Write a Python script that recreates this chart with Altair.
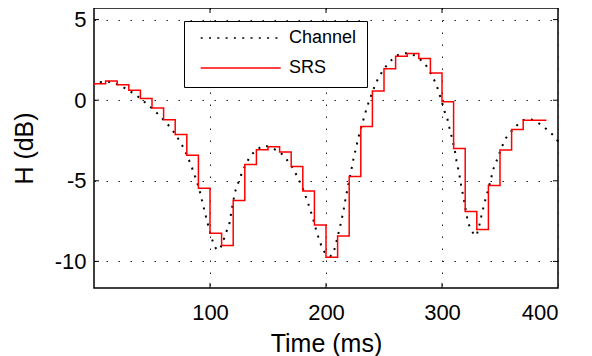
import altair as alt
import pandas as pd

channel_t = [5, 8.4, 15, 22, 28, 34.3, 40.3, 45.8, 51, 56.1, 61, 65.9, 70, 74.2, 77.8,
             80.6, 83.5, 86.1, 88.4, 90.7, 92.4, 94.1, 95.8, 97.6, 99.3, 101.3, 103.9,
             106.2, 108.5, 111.4, 113.4, 116.5, 118.9, 121.5, 124, 127.5, 130.7, 134.1,
             139, 144.8, 148.5, 151.9, 158.3, 163.7, 168.1, 172.4, 175.5, 178.7, 181.5,
             183.9, 186.2, 188.2, 190.2, 192.2, 194.6, 196.8, 200.6, 203.5, 205.4, 207.8,
             209.5, 211.2, 212.9, 214.4, 215.8, 217, 218.4, 220, 221.3, 222.7, 224.2, 226,
             227.6, 229.5, 231.4, 233.4, 235.4, 238, 240.5, 243.2, 246.6, 250.5, 255.2,
             261, 266.7, 270.5, 274.8, 280.3, 285.7, 289.5, 293, 295.8, 298.1, 300.2,
             302.1, 304.7, 306.4, 308.2, 309.9, 311.4, 312.5, 314, 315.4, 316.5, 318,
             319.4, 320.6, 322, 324, 327.5, 329.5, 331.5, 333.2, 334.9, 336.6, 338.7,
             340.5, 342.4, 344.1, 346.7, 349.3, 351.8, 355.1, 359.7, 364, 370.3, 377.2,
             382.4, 386.5, 389.9, 393.4, 396.2, 398.5, 400]
channel_h = [1.12, 1.15, 1.13, 0.93, 0.7, 0.41, 0.1, -0.25, -0.56, -0.93, -1.3, -1.69,
             -2.1, -2.57, -3.03, -3.5, -4.0, -4.51, -5.0, -5.49, -6.01, -6.52, -7.02,
             -7.53, -8.02, -8.54, -9.06, -9.3, -9.24, -8.75, -8.27, -7.76, -6.73, -5.7,
             -5.19, -4.51, -4.0, -3.54, -3.13, -2.86, -2.84, -2.92, -3.13, -3.44, -3.87,
             -4.32, -4.78, -5.25, -5.75, -6.26, -6.73, -7.2, -7.7, -8.25, -8.73, -9.22,
             -9.61, -9.68, -9.61, -9.14, -8.62, -8.11, -7.6, -7.08, -6.57, -6.05, -5.54,
             -5.0, -4.51, -4.0, -3.46, -2.94, -2.39, -1.9, -1.42, -0.91, -0.41, 0.1, 0.6,
             1.09, 1.56, 2.0, 2.41, 2.78, 2.9, 2.92, 2.84, 2.59, 2.22, 1.77, 1.3, 0.82,
             0.31, -0.18, -0.68, -1.17, -1.71, -2.22, -2.74, -3.25, -3.77, -4.28, -4.8,
             -5.31, -5.83, -6.36, -6.88, -7.41, -7.9, -8.33, -8.42, -8.0, -7.41, -6.9,
             -6.38, -5.85, -5.35, -4.84, -4.3, -3.83, -3.33, -2.86, -2.35, -1.94, -1.59,
             -1.23, -1.2, -1.38, -1.59, -1.79, -2.0, -2.2, -2.41, -2.55]

srs_t = [0, 10, 20, 30, 40, 50, 60, 70, 80, 90, 100, 110, 120, 130, 140, 150, 160, 170,
         180, 190, 200, 210, 220, 230, 240, 250, 260, 270, 280, 290, 300, 310, 320, 330,
         340, 350, 360, 370, 380, 390]
srs_h = [1.02, 1.19, 0.96, 0.62, 0.10, -0.48, -1.22, -2.12, -3.42, -5.46, -8.25, -9.01,
         -6.22, -3.99, -3.07, -2.88, -3.21, -4.12, -5.64, -7.74, -9.75, -8.42, -4.73,
         -1.63, 0.57, 1.95, 2.73, 2.90, 2.59, 1.69, -0.10, -2.99, -6.90, -8.02, -5.29,
         -3.09, -1.81, -1.24, -1.24, -1.24]

x_ticks = [100, 200, 300, 400]
y_ticks = [-10, -5, 0, 5]
series_names = ["Channel", "SRS"]
series_colors = ["#000000", "#ff0000"]
series_dashes = [[2, 6.3], [1, 0]]

df_ch = pd.DataFrame({"t": channel_t, "h": channel_h, "series": "Channel"})
df_srs = pd.DataFrame({"t": srs_t, "h": srs_h, "series": "SRS"})
df_xt = pd.DataFrame({"t": x_ticks[:-1]})
df_yt = pd.DataFrame({"h": y_ticks})

FONT = "Liberation Sans"
W, H = 464, 280
TICK = 5

x_scale = alt.Scale(domain=[0, 400], nice=False, zero=False)
y_scale = alt.Scale(domain=[-11.65, 5.72], nice=False, zero=False)

x_enc = alt.X("t:Q", scale=x_scale,
              axis=alt.Axis(title="Time (ms)", values=x_ticks, labelPadding=14,
                            titlePadding=8, labelExpr="datum.value + ''"))
y_enc = alt.Y("h:Q", scale=y_scale,
              axis=alt.Axis(title="H (dB)", values=y_ticks, labelPadding=8,
                            titlePadding=17, labelExpr="datum.value + ''"))

leg = alt.Legend(orient="none", legendX=90, legendY=13, title=None,
                 strokeColor="black", fillColor="white", padding=10,
                 symbolType="M-4,0H4", symbolSize=400, symbolStrokeWidth=1.5,
                 symbolOffset=35.7, labelOffset=37.3, clipHeight=14,
                 labelFont=FONT, labelFontSize=18, labelColor="black",
                 rowPadding=12, labelLimit=300)

color_enc = alt.Color("series:N", scale=alt.Scale(domain=series_names, range=series_colors),
                      legend=leg)
dash_enc = alt.StrokeDash("series:N", scale=alt.Scale(domain=series_names, range=series_dashes),
                          legend=leg)

ch = alt.Chart(df_ch).mark_line(strokeWidth=2, strokeCap="butt").encode(
    x=x_enc, y=y_enc, color=color_enc, strokeDash=dash_enc)
srs = alt.Chart(df_srs).mark_line(strokeWidth=1.5, interpolate="step-after").encode(
    x=x_enc, y=y_enc, color=color_enc, strokeDash=dash_enc)

# inward axis ticks (MATLAB style, on all four sides)
tick_style = dict(color="black", strokeWidth=1)
xt_bottom = alt.Chart(df_xt).mark_rule(**tick_style).encode(
    x=alt.X("t:Q", scale=x_scale), y=alt.value(H), y2=alt.value(H - TICK))
xt_top = alt.Chart(df_xt).mark_rule(**tick_style).encode(
    x=alt.X("t:Q", scale=x_scale), y=alt.value(0), y2=alt.value(TICK))
yt_left = alt.Chart(df_yt).mark_rule(**tick_style).encode(
    y=alt.Y("h:Q", scale=y_scale), x=alt.value(0), x2=alt.value(TICK))
yt_right = alt.Chart(df_yt).mark_rule(**tick_style).encode(
    y=alt.Y("h:Q", scale=y_scale), x=alt.value(W), x2=alt.value(W - TICK))

chart = alt.layer(ch, srs, xt_bottom, xt_top, yt_left, yt_right).properties(
    width=W, height=H,
    autosize=alt.AutoSizeParams(type="none"),
    padding={"left": 86, "top": 0, "right": 26, "bottom": 68},
).configure_view(stroke="black", strokeWidth=1.5).configure_axis(
    domain=False, ticks=False, tickSize=0, grid=True, gridColor="#222222",
    gridDash=[1.5, 10.5], gridWidth=1, gridOpacity=1,
    labelFont=FONT, labelFontSize=22, labelColor="black",
    titleFont=FONT, titleFontSize=25, titleFontWeight="normal", titleColor="black",
)

chart.save("out.html", embed_options={"renderer": "svg", "actions": False})
